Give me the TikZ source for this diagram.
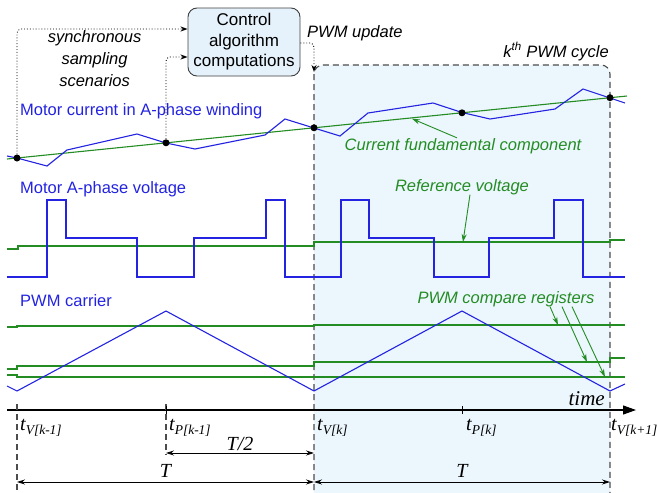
\documentclass[tikz,border=0pt]{standalone}
\usepackage{fontspec}
\setmainfont{Liberation Sans}
\newfontfamily\timesfont{Liberation Serif}
\usetikzlibrary{positioning,arrows.meta}
\definecolor{wavblue}{RGB}{35,35,225}
\definecolor{wavgreen}{RGB}{35,140,35}
\definecolor{cyclefill}{RGB}{236,246,253}
\definecolor{ctrlfill}{RGB}{230,242,251}
\newcommand{\tinst}[1]{{\timesfont\itshape\fontsize{20}{22}\selectfont t\raisebox{-4.5pt}{\fontsize{13.5}{15}\selectfont #1}}}
\tikzstyle{wave} = [line width=1.1pt, line join=miter]
\tikzstyle{dimline} = [line width=0.8pt, {Stealth[length=8pt,width=5pt]}-{Stealth[length=8pt,width=5pt]}]
\tikzstyle{bound} = [line width=1.1pt, black!70, dash pattern=on 6pt off 4pt]
\tikzstyle{flow} = [line width=0.9pt, dotted, rounded corners=4pt, -{Stealth[length=7pt,width=5pt]}]
\tikzstyle{pointer} = [line width=0.9pt, wavgreen, -{Stealth[length=8pt,width=5pt]}]

\begin{document}
\begin{tikzpicture}[x=1pt, y=-1pt,
			every node/.style={inner sep=0pt, font=\fontsize{16.5}{19}\selectfont},
			ctrl/.style={
					rectangle,
					draw=black!75,
					line width=0.9pt,
					rounded corners=9pt,
					fill=ctrlfill,
					minimum width=112pt,
					minimum height=68pt,
					align=center,
					font=\fontsize{17}{20.5}\selectfont,
				},
			trace/.style={text=wavblue, anchor=base west},
			remark/.style={text=wavgreen, anchor=base, font=\fontsize{16.5}{19}\selectfont\itshape},
			sample/.style={circle, fill=black, minimum size=7pt},
			instlbl/.style={anchor=base west},
			serifit/.style={font=\timesfont\itshape\fontsize{20}{22}\selectfont},
		]
		\useasboundingbox (0,0) rectangle (657,493);

		% kth PWM cycle
		\fill[cyclefill, rounded corners=9pt] (314,520) -- (314,65) -- (610,65) -- (610,520) -- cycle;
		\draw[bound, rounded corners=9pt] (314,520) -- (314,65) -- (610,65) -- (610,520);
		\node[anchor=base east, font=\fontsize{16.5}{19}\selectfont\itshape] (cyc) at (609,57) {k\textsuperscript{th} PWM cycle};

		% Control algorithm
		\node[ctrl] (ctrl) at (244,42) {Control\\algorithm\\computations};
		\node[left=46pt of ctrl, yshift=-17pt, align=center, font=\fontsize{16.5}{22}\selectfont\itshape] (scen) {synchronous\\sampling\\scenarios};
		\node[anchor=base west, font=\fontsize{16.5}{19}\selectfont\itshape] (upd) at (307,37) {PWM update};

		% Motor current
		\node[trace] (curname) at (20,115) {Motor current in A-phase winding};
		\draw[wave, wavgreen] (7,159) -- (627,96);
		\draw[wave, wavblue] (7,156) -- (17,158) -- (47,166) -- (67,150) -- (137,134) -- (166,143) -- (195,149) -- (265,135) -- (285,119) -- (314,128) -- (340,136) -- (368,113) -- (433,103) -- (462,112.5) -- (490,119) -- (555,109) -- (583,89) -- (610,98) -- (625,103);
		\node[sample] (s0) at (17,158) {};
		\node[sample] (s1) at (166,142.8) {};
		\node[sample] (s2) at (314,127.8) {};
		\node[sample] (s3) at (462,112.8) {};
		\node[sample] (s4) at (610,97.7) {};
		\node[remark] (curlbl) at (463,150) {Current fundamental component};
		\coordinate (curtip) at (412,118.7);
		\draw[pointer] ([xshift=-6pt]curlbl.north) -- (curtip);

		% Sampling and update
		\draw[flow] (s0) |- ([yshift=13pt]ctrl.west);
		\draw[flow] (s1) |- ([yshift=-15pt]ctrl.west);
		\coordinate (updtip) at (314,72);
		\draw[flow] ([yshift=-1pt]ctrl.east) -| (updtip);

		% Motor voltage
		\node[trace] (volname) at (20,193) {Motor A-phase voltage};
		\draw[wave, wavgreen] (7,249) -- (18,249) -- (18,246) -- (314,246) -- (314,242) -- (610,242) -- (610,240) -- (625,240);
		\draw[wave, wavblue] (7,277) -- (47,277) -- (47,200) -- (66,200) -- (66,238) -- (137,238) -- (137,277) -- (194,277) -- (194,238) -- (266,238) -- (266,200) -- (285,200) -- (285,277) -- (341,277) -- (341,200) -- (369,200) -- (369,238) -- (434,238) -- (434,277) -- (489,277) -- (489,238) -- (554,238) -- (554,200) -- (583,200) -- (583,277) -- (625,277);
		\node[remark] (reflbl) at (462,191) {Reference voltage};
		\coordinate (reftip) at (463,242);
		\draw[pointer] ([xshift=8pt]reflbl.south) -- (reftip);

		% PWM carrier
		\node[trace] (carname) at (20,306) {PWM carrier};
		\draw[wave, wavgreen] (7,327) -- (17,327) -- (17,326) -- (314,326) -- (314,325) -- (625,325);
		\draw[wave, wavgreen] (7,369) -- (17,369) -- (17,366) -- (314,366) -- (314,362) -- (610,362) -- (610,358) -- (625,358);
		\draw[wave, wavgreen] (7,375) -- (17,375) -- (17,377) -- (625,377);
		\draw[wave, wavblue] (7,386) -- (17,391) -- (166,311) -- (314,391) -- (462,311) -- (610,391) -- (625,384);
		\node[remark] (cmplbl) at (506,303) {PWM compare registers};
		\coordinate (cmp1) at (558,325);
		\coordinate (cmp2) at (587,362);
		\coordinate (cmp3) at (605,377);
		\draw[pointer] ([xshift=44pt]cmplbl.south) -- (cmp1);
		\draw[pointer] ([xshift=56pt]cmplbl.south) -- (cmp2);
		\draw[pointer] ([xshift=66pt]cmplbl.south) -- (cmp3);

		% Time axis
		\coordinate (origin) at (7,410);
		\coordinate (tend) at (636,410);
		\draw[line width=1.1pt, -{Triangle[length=13pt,width=9pt]}] (origin) -- (tend);
		\node[anchor=base east, font=\timesfont\itshape\fontsize{21}{22}\selectfont] (timelbl) at (605,405) {time};
		\draw[bound] (17,404) -- (17,493);
		\draw[bound] (166,404) -- (166,455);
		\draw[line width=0.9pt] (166,406) -- (166,414);
		\draw[line width=0.9pt] (462,406) -- (462,414);

		% Instants
		\node[instlbl] (lv0) at (20,430) {\tinst{V[k-1]}};
		\node[instlbl] (lp0) at (169,430) {\tinst{P[k-1]}};
		\node[instlbl] (lv1) at (317,430) {\tinst{V[k]}};
		\node[instlbl] (lp1) at (466,430) {\tinst{P[k]}};
		\node[instlbl] (lv2) at (611,430) {\tinst{V[k+1]}};

		% Periods
		\coordinate (hl) at (166,453);
		\coordinate (hr) at (314,453);
		\draw[dimline] (hl) -- node[above=2pt, serifit] (half) {T/2} (hr);
		\coordinate (pa) at (17,482);
		\coordinate (pb) at (314,482);
		\coordinate (pc) at (610,482);
		\draw[dimline] (pa) -- node[above=4pt, serifit] (per0) {T} (pb);
		\draw[dimline] (pb) -- node[above=4pt, serifit] (per1) {T} (pc);

	\end{tikzpicture}
\end{document}
